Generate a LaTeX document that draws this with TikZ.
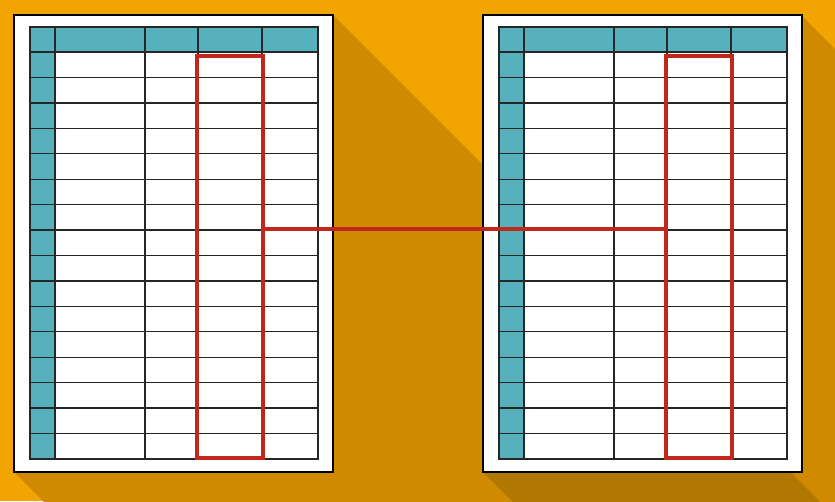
\documentclass[tikz,border=0pt]{standalone}
\definecolor{bgc}{HTML}{F2A500}
\definecolor{shadowc}{HTML}{D08A00}
\definecolor{shadowd}{HTML}{B07800}
\definecolor{tealc}{HTML}{57B1BD}
\definecolor{redc}{HTML}{C1271B}
\definecolor{gridc}{HTML}{262626}
\tikzset{
  sheet/.style={draw=black, fill=white, line width=1.6pt, inner sep=0pt, outer sep=0pt, anchor=north west},
  gridline/.style={draw=gridc, line width=1.3pt},
  redbox/.style={draw=redc, line width=4pt, inner sep=0pt, outer sep=0pt, anchor=north west},
  redline/.style={draw=redc, line width=3.5pt},
}
\begin{document}
\begin{tikzpicture}[x=1pt,y=-1pt]
\useasboundingbox (0,0) rectangle (835,501);
\fill[bgc] (0,0) rectangle (835,501);
\begin{scope}
  \clip (0,0) rectangle (835,501);
  \fill[shadowc] (14,15) -- (333,15) -- (933,615) -- (933,1072) -- (614,1072) -- (14,472) -- cycle;
  \fill[shadowc] (483,15) -- (801,15) -- (1401,615) -- (1401,1072) -- (1083,1072) -- (483,472) -- cycle;
  \clip (14,15) -- (333,15) -- (933,615) -- (933,1072) -- (614,1072) -- (14,472) -- cycle;
  \fill[shadowd] (483,15) -- (801,15) -- (1401,615) -- (1401,1072) -- (1083,1072) -- (483,472) -- cycle;
\end{scope}
\foreach \s/\nm in {0/L, 469/R} {
  \begin{scope}[xshift=\s pt]
    \node[sheet, minimum width=319pt, minimum height=457pt] (sheet\nm) at (14,15) {};
    \fill[tealc] (30,27) rectangle (318,52);
    \fill[tealc] (30,52) rectangle (55,459);
    \foreach \k in {1,...,15} {
      \draw[gridline] (30,52+\k*25.4375) -- (318,52+\k*25.4375);
    }
    \foreach \xx in {55,145,198,262} {
      \draw[gridline] (\xx,27) -- (\xx,459);
    }
    \draw[gridline] (30,52) -- (318,52);
    \draw[gridline] (30,27) rectangle (318,459);
    \node[redbox, minimum width=66pt, minimum height=402pt] (red\nm) at (197,55.5) {};
  \end{scope}
}
\coordinate (cy) at (0,229);
\draw[redline] (redL.east |- cy) -- (redR.west |- cy);
\end{tikzpicture}
\end{document}
